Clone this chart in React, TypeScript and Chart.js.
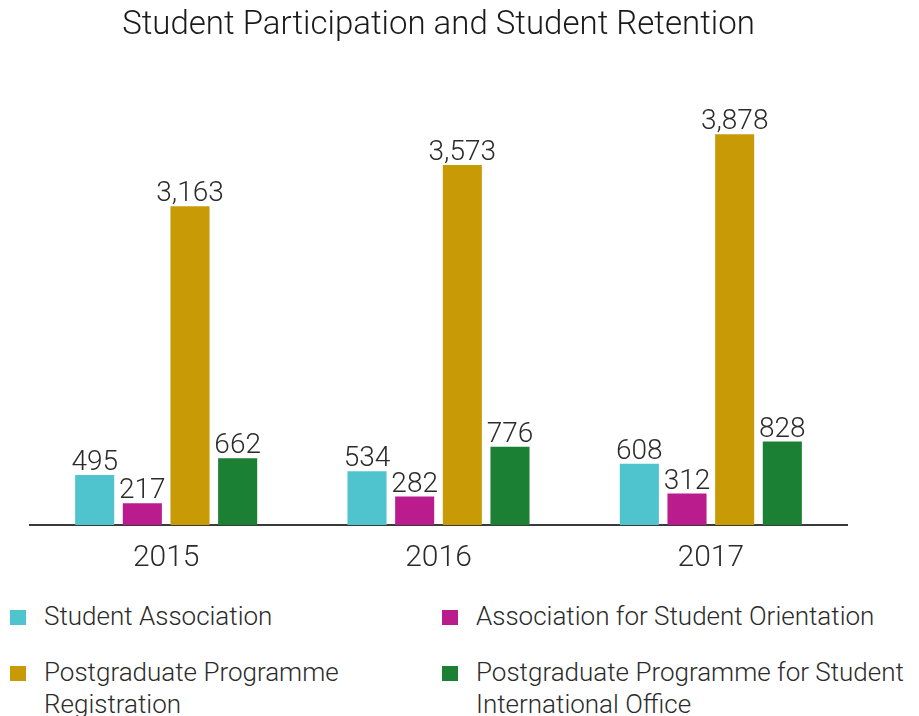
import React, { useEffect, useRef } from "react";
import { Chart, registerables } from "chart.js";

Chart.register(...registerables);

const categories = ["2015", "2016", "2017"];
const titleText = "Student Participation and Student Retention";
const seriesNames = [
  "Student Association",
  "Association for Student Orientation",
  "Postgraduate Programme\nRegistration",
  "Postgraduate Programme for Student\nInternational Office",
];
const seriesColors = ["#50C4CE", "#BA1C8E", "#C89B06", "#1B7F34"];
const associationValues = [495, 534, 608];
const orientationValues = [217, 282, 312];
const programmeValues = [3163, 3573, 3878];
const internationalValues = [662, 776, 828];

const FONT = "Roboto, 'Liberation Sans', Arial, sans-serif";
const TEXT = "#2b2b2b";

const valueLabels = {
  id: "valueLabels",
  afterDatasetsDraw(chart: any) {
    const ctx = chart.ctx;
    ctx.save();
    ctx.font = `300 28px ${FONT}`;
    ctx.fillStyle = TEXT;
    ctx.textAlign = "center";
    ctx.textBaseline = "alphabetic";
    chart.data.datasets.forEach((ds: any, i: number) => {
      const meta = chart.getDatasetMeta(i);
      meta.data.forEach((el: any, j: number) => {
        const v = ds.data[j] as number;
        ctx.fillText(v.toLocaleString("en-US"), el.x, el.y - 5);
      });
    });
    ctx.restore();
  },
};

export default function App() {
  const ref = useRef<HTMLCanvasElement | null>(null);

  useEffect(() => {
    document.body.style.margin = "0";
    if (!ref.current) return;
    const seriesValues = [associationValues, orientationValues, programmeValues, internationalValues];
    const chart = new Chart(ref.current, {
      type: "bar",
      data: {
        labels: categories,
        datasets: seriesValues.map((vals, i) => ({
          label: seriesNames[i],
          data: vals,
          backgroundColor: seriesColors[i],
          borderWidth: 0,
          categoryPercentage: 0.7,
          barPercentage: 0.82,
        })),
      },
      options: {
        responsive: false,
        animation: false,
        layout: { padding: { left: 30, right: 72, top: 0, bottom: 5 } },
        plugins: {
          legend: { display: false },
          tooltip: { enabled: false },
          title: {
            display: true,
            text: titleText,
            color: "#1a1a1a",
            font: { family: FONT, size: 33, weight: "300" },
            padding: { top: 6, bottom: 36 },
          },
        },
        scales: {
          x: {
            grid: { display: false, drawTicks: false },
            border: { display: true, color: "#3a3a3a", width: 2 },
            ticks: { color: TEXT, font: { family: FONT, size: 30, weight: "300" }, padding: 15 },
          },
          y: { display: false, min: 0, max: 4400 },
        },
      },
      plugins: [valueLabels],
    });
    return () => chart.destroy();
  }, []);

  const legendPos = [
    { left: 10, top: 600 },
    { left: 442, top: 600 },
    { left: 10, top: 656 },
    { left: 442, top: 656 },
  ];

  return (
    <div style={{ position: "relative", width: 919, height: 716, background: "#fff", overflow: "hidden" }}>
      <canvas ref={ref} width={919} height={596} style={{ display: "block", position: "absolute", left: 0, top: 0 }} />
      {seriesNames.map((name, i) => (
        <div
          key={i}
          style={{
            position: "absolute",
            left: legendPos[i].left,
            top: legendPos[i].top,
            display: "flex",
            alignItems: "flex-start",
            fontFamily: FONT,
            fontWeight: 300,
            fontSize: 26,
            lineHeight: "32px",
            color: TEXT,
          }}
        >
          <span
            style={{
              display: "inline-block",
              width: 16,
              height: 15,
              background: seriesColors[i],
              marginTop: 10,
              marginRight: 18,
              flex: "none",
            }}
          />
          <span style={{ whiteSpace: "pre" }}>{name}</span>
        </div>
      ))}
    </div>
  );
}
